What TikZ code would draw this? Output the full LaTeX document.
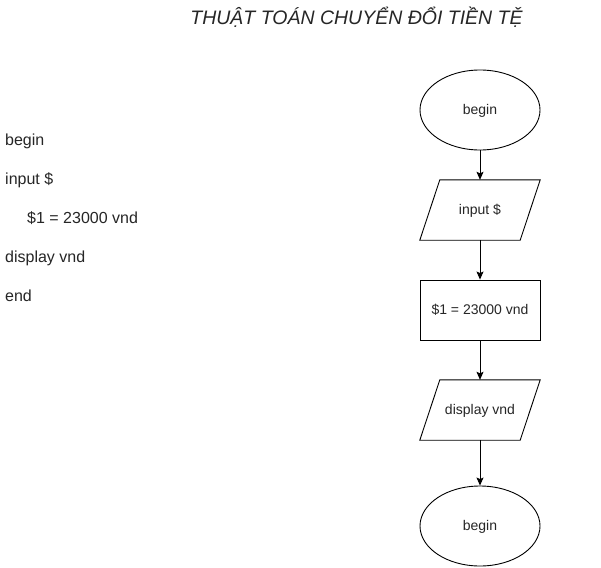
\documentclass[tikz,border=0pt]{standalone}
\usepackage{fontspec}
\setmainfont{Liberation Sans}
\usetikzlibrary{shapes.geometric,arrows.meta}
\begin{document}
\begin{tikzpicture}[x=1pt,y=-1pt,
  shapetext/.style={font=\fontsize{14}{16}\selectfont, text=black!85, text height=10.2pt, text depth=0.5pt},
  codetext/.style={font=\fontsize{16}{18}\selectfont, text=black!85, anchor=base west, inner sep=0pt},
  term/.style={ellipse, draw, line width=0.9pt, minimum width=120pt, minimum height=80pt, inner sep=0pt, shapetext},
  procbox/.style={rectangle, draw, line width=0.9pt, minimum width=120pt, minimum height=60pt, inner sep=0pt, shapetext},
  iobox/.style={rectangle, minimum width=100pt, minimum height=60pt, inner sep=0pt, shapetext},
  flow/.style={line width=0.9pt, -{Stealth[length=8pt,width=7pt,inset=1.5pt]}}
]
\useasboundingbox (0,0) rectangle (601,567);
\fill[white] (0,0) rectangle (601,567);

\node[font=\fontsize{19.5}{22}\selectfont\itshape, text=black!85, anchor=base, inner sep=0pt] (title) at (356.5,25) {THUẬT TOÁN CHUYỂN ĐỔI TIỀN TỆ};

\node[codetext] (c1) at (5,145) {begin};
\node[codetext] (c2) at (5,184) {input \$};
\node[codetext] (c3) at (27,223) {\$1 = 23000 vnd};
\node[codetext] (c4) at (5,262) {display vnd};
\node[codetext] (c5) at (5,301) {end};

\node[term] (start) at (480,110) {begin};
\node[iobox] (inp) at (480,210) {input \$};
\draw[line width=0.9pt] ([xshift=10pt]inp.north west) -- ([xshift=10pt]inp.north east) -- ([xshift=-10pt]inp.south east) -- ([xshift=-10pt]inp.south west) -- cycle;
\node[procbox] (conv) at (480,310) {\$1 = 23000 vnd};
\node[iobox] (disp) at (480,410) {display vnd};
\draw[line width=0.9pt] ([xshift=10pt]disp.north west) -- ([xshift=10pt]disp.north east) -- ([xshift=-10pt]disp.south east) -- ([xshift=-10pt]disp.south west) -- cycle;
\node[term] (stop) at (480,526) {begin};

\draw[flow] (start.south) -- (inp.north);
\draw[flow] (inp.south) -- (conv.north);
\draw[flow] (conv.south) -- (disp.north);
\draw[flow] (disp.south) -- (stop.north);
\end{tikzpicture}
\end{document}
